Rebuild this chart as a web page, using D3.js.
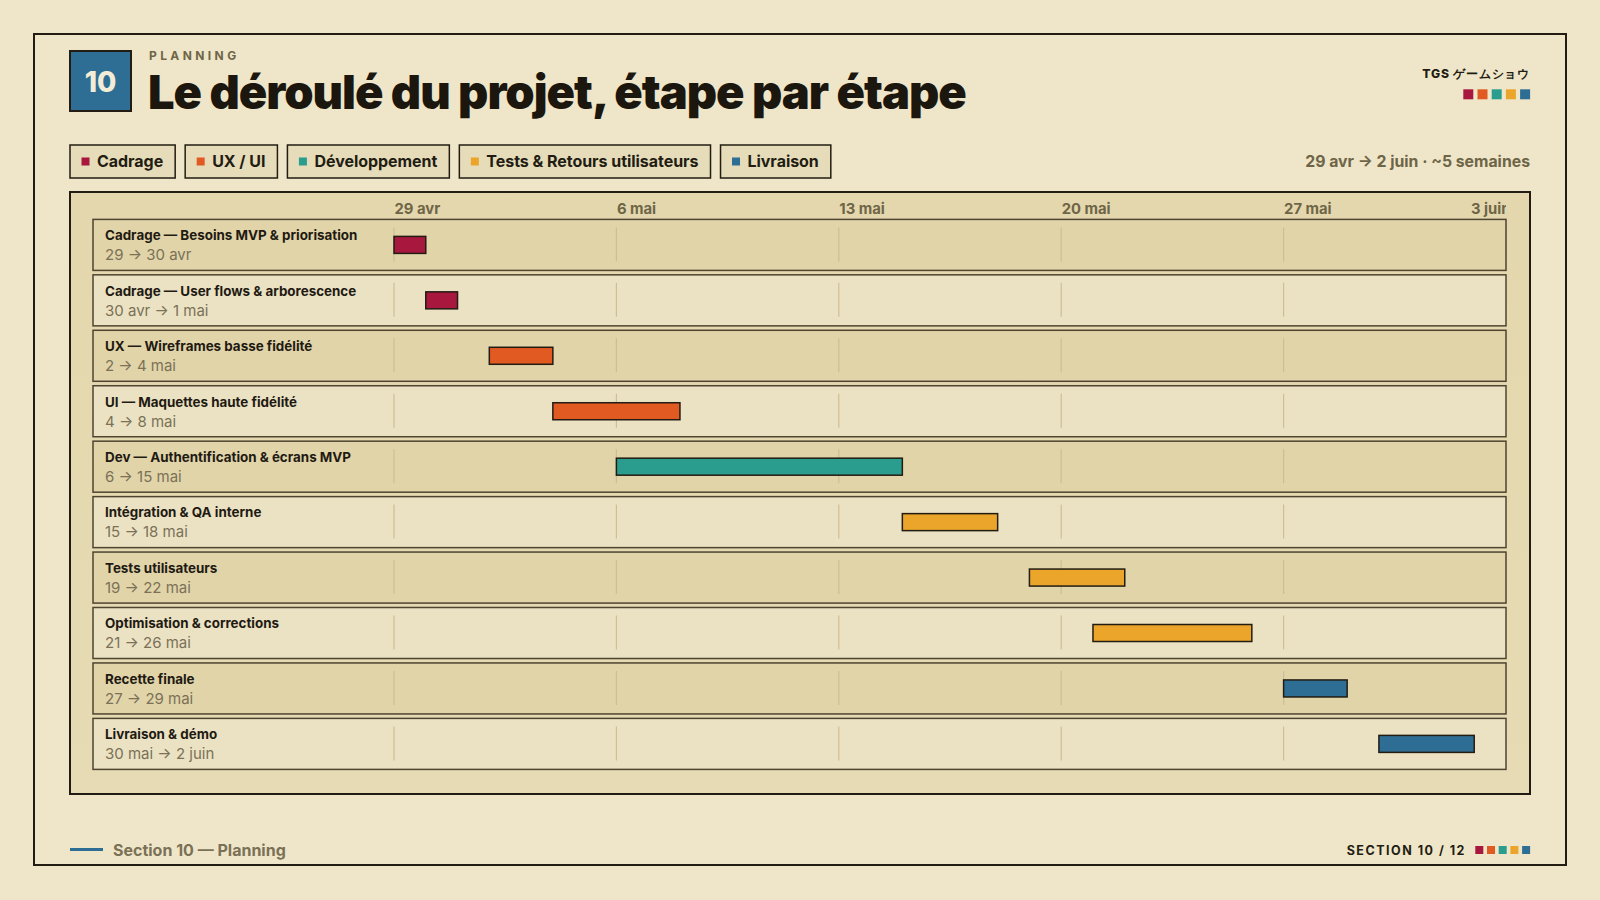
<!DOCTYPE html>
<html>
<head>
<meta charset="utf-8">
<script src="https://cdn.jsdelivr.net/npm/d3@7"></script>
<style>
  html, body { margin: 0; padding: 0; background: #efe6c9; }
  svg { display: block; font-family: Inter, "Noto Sans", sans-serif; }
</style>
</head>
<body>
<svg id="chart" width="1600" height="900"></svg>
<script>
// ---------- DATA ----------
const categories = ["Cadrage", "UX / UI", "Développement", "Tests & Retours utilisateurs", "Livraison"];
const categoryColors = ["#a8173d", "#e05a22", "#2a9d8f", "#eaa52a", "#2e6e94"];

const taskLabels = [
  "Cadrage — Besoins MVP & priorisation",
  "Cadrage — User flows & arborescence",
  "UX — Wireframes basse fidélité",
  "UI — Maquettes haute fidélité",
  "Dev — Authentification & écrans MVP",
  "Intégration & QA interne",
  "Tests utilisateurs",
  "Optimisation & corrections",
  "Recette finale",
  "Livraison & démo"
];
const taskDateLabels = [
  "29 → 30 avr", "30 avr → 1 mai", "2 → 4 mai", "4 → 8 mai", "6 → 15 mai",
  "15 → 18 mai", "19 → 22 mai", "21 → 26 mai", "27 → 29 mai", "30 mai → 2 juin"
];
const taskStarts = ["2024-04-29", "2024-04-30", "2024-05-02", "2024-05-04", "2024-05-06",
                    "2024-05-15", "2024-05-19", "2024-05-21", "2024-05-27", "2024-05-30"];
const taskEnds   = ["2024-04-30", "2024-05-01", "2024-05-04", "2024-05-08", "2024-05-15",
                    "2024-05-18", "2024-05-22", "2024-05-26", "2024-05-29", "2024-06-02"];
const taskCategory = [0, 0, 1, 1, 2, 3, 3, 3, 4, 4];

const tickDates = ["2024-04-29", "2024-05-06", "2024-05-13", "2024-05-20", "2024-05-27", "2024-06-03"];
const tickLabels = ["29 avr", "6 mai", "13 mai", "20 mai", "27 mai", "3 juin"];
const domainDates = ["2024-04-29", "2024-06-03"];

// ---------- SETUP ----------
const parse = d3.utcParse("%Y-%m-%d");
const svg = d3.select("#chart");
const INK = "#221c12";
const MUTED = "#6e6547";

svg.append("rect").attr("width", 1600).attr("height", 900).attr("fill", "#efe6c9");

// outer frame
svg.append("rect").attr("x", 34).attr("y", 34).attr("width", 1532).attr("height", 831)
  .attr("fill", "#efe6c9").attr("stroke", INK).attr("stroke-width", 2);

// badge
svg.append("rect").attr("x", 70).attr("y", 51).attr("width", 61).attr("height", 60)
  .attr("fill", "#2e6e94").attr("stroke", INK).attr("stroke-width", 2);
svg.append("text").attr("x", 100.5).attr("y", 91.5).attr("text-anchor", "middle")
  .attr("font-size", 28).attr("font-weight", 800).attr("fill", "#f3ecd6").text("10");

svg.append("text").attr("x", 149).attr("y", 59.5)
  .attr("font-size", 12).attr("font-weight", 700).attr("letter-spacing", 3.4)
  .attr("fill", MUTED).text("PLANNING");

svg.append("text").attr("x", 148).attr("y", 109)
  .attr("font-size", 47).attr("font-weight", 900).attr("letter-spacing", -1.0)
  .attr("fill", "#1c170e").text("Le déroulé du projet, étape par étape");

// top right brand
svg.append("text").attr("x", 1530).attr("y", 77.5).attr("text-anchor", "end")
  .attr("font-size", 12.2).attr("font-weight", 800).attr("letter-spacing", 0.8)
  .attr("fill", INK).text("TGS ゲームショウ");
svg.selectAll("rect.topsq").data(categoryColors).join("rect").attr("class", "topsq")
  .attr("x", (d, i) => 1463.3 + i * 14.2).attr("y", 89.3).attr("width", 10).attr("height", 10)
  .attr("fill", d => d);

svg.append("text").attr("x", 1530).attr("y", 167).attr("text-anchor", "end")
  .attr("font-size", 15.8).attr("font-weight", 700).attr("fill", MUTED)
  .text("29 avr → 2 juin · ~5 semaines");

// legend
let lx = 70;
categories.forEach((c, i) => {
  const g = svg.append("g").attr("transform", `translate(${lx},145)`);
  const r = g.append("rect").attr("width", 10).attr("height", 33)
    .attr("fill", "#e6dcb9").attr("stroke", INK).attr("stroke-width", 1.5);
  g.append("rect").attr("x", 11.5).attr("y", 12.5).attr("width", 8).attr("height", 8)
    .attr("fill", categoryColors[i]);
  const t = g.append("text").attr("x", 27).attr("y", 22.3)
    .attr("font-size", 16).attr("font-weight", 700).attr("letter-spacing", -0.04)
    .attr("fill", INK).text(c);
  const w = 27 + t.node().getComputedTextLength() + 12;
  r.attr("width", w);
  lx += w + 10;
});

// chart panel
const defs = svg.append("defs");
const grad = defs.append("linearGradient").attr("id", "pg").attr("x1", 0).attr("y1", 0).attr("x2", 0).attr("y2", 1);
grad.append("stop").attr("offset", "0%").attr("stop-color", "#e4d7ad");
grad.append("stop").attr("offset", "100%").attr("stop-color", "#e6dbb4");
svg.append("rect").attr("x", 70).attr("y", 192).attr("width", 1460).attr("height", 602)
  .attr("fill", "url(#pg)").attr("stroke", INK).attr("stroke-width", 2);

// scales
const x = d3.scaleUtc().domain(domainDates.map(parse)).range([394, 1506]);
const y = d3.scaleBand().domain(d3.range(taskLabels.length)).range([219.4, 769.4])
  .paddingInner(0.08).paddingOuter(0);

// clip for axis (local coordinates of the axis group)
defs.append("clipPath").attr("id", "axclip").append("rect")
  .attr("x", 380).attr("y", -30).attr("width", 1506 - 380).attr("height", 40);

// axis
const axis = d3.axisTop(x).tickValues(tickDates.map(parse))
  .tickFormat((d, i) => tickLabels[i]).tickSize(0).tickPadding(0);
const axG = svg.append("g").attr("transform", "translate(0,213.5)")
  .attr("clip-path", "url(#axclip)").call(axis);
axG.select(".domain").remove();
axG.selectAll(".tick text")
  .attr("font-family", "Inter, 'Noto Sans', sans-serif")
  .attr("font-size", 14.8).attr("font-weight", 700).attr("fill", MUTED)
  .attr("dy", 0).attr("y", 0)
  .attr("text-anchor", (d, i, n) => i === n.length - 1 ? "end" : "start")
  .attr("dx", (d, i, n) => i === n.length - 1 ? 4 : 0);

// rows
const rows = svg.append("g").selectAll("g.row").data(d3.range(taskLabels.length)).join("g")
  .attr("class", "row").attr("transform", i => `translate(0,${y(i)})`);

rows.append("rect").attr("x", 93).attr("y", 0).attr("width", 1506 - 93).attr("height", y.bandwidth())
  .attr("fill", i => i % 2 === 0 ? "#e1d4a9" : "#ebe2c4")
  .attr("stroke", "#4e4430").attr("stroke-width", 1.5);

const gridDates = tickDates.slice(0, tickDates.length - 1).map(parse);
rows.each(function () {
  d3.select(this).selectAll("line.grid").data(gridDates).join("line").attr("class", "grid")
    .attr("x1", d => x(d)).attr("x2", d => x(d)).attr("y1", 8).attr("y2", 42)
    .attr("stroke", "#cdbf95").attr("stroke-width", 1.2);
});

rows.append("text").attr("x", 105).attr("y", 20.8)
  .attr("font-size", 13.4).attr("font-weight", 700).attr("fill", "#1f1a12")
  .text(i => taskLabels[i]);
rows.append("text").attr("x", 105).attr("y", 40.8)
  .attr("font-size", 15).attr("font-weight", 400).attr("fill", "#7a7156")
  .text(i => taskDateLabels[i]);

const barH = 17;
rows.append("rect")
  .attr("x", i => x(parse(taskStarts[i])))
  .attr("width", i => x(parse(taskEnds[i])) - x(parse(taskStarts[i])))
  .attr("y", (y.bandwidth() - barH) / 2).attr("height", barH)
  .attr("fill", i => categoryColors[taskCategory[i]])
  .attr("stroke", INK).attr("stroke-width", 1.5);

// footer
svg.append("line").attr("x1", 70).attr("x2", 103).attr("y1", 849.5).attr("y2", 849.5)
  .attr("stroke", "#2e6e94").attr("stroke-width", 3);
svg.append("text").attr("x", 113).attr("y", 855.5)
  .attr("font-size", 16).attr("font-weight", 700).attr("fill", "#7a7156")
  .text("Section 10 — Planning");

svg.append("text").attr("x", 1466).attr("y", 854.5).attr("text-anchor", "end")
  .attr("font-size", 12.5).attr("font-weight", 700).attr("letter-spacing", 1.5)
  .attr("fill", INK).text("SECTION 10 / 12");
svg.selectAll("rect.botsq").data(categoryColors).join("rect").attr("class", "botsq")
  .attr("x", (d, i) => 1475.3 + i * 11.7).attr("y", 846).attr("width", 8).attr("height", 8)
  .attr("fill", d => d);
</script>
</body>
</html>
